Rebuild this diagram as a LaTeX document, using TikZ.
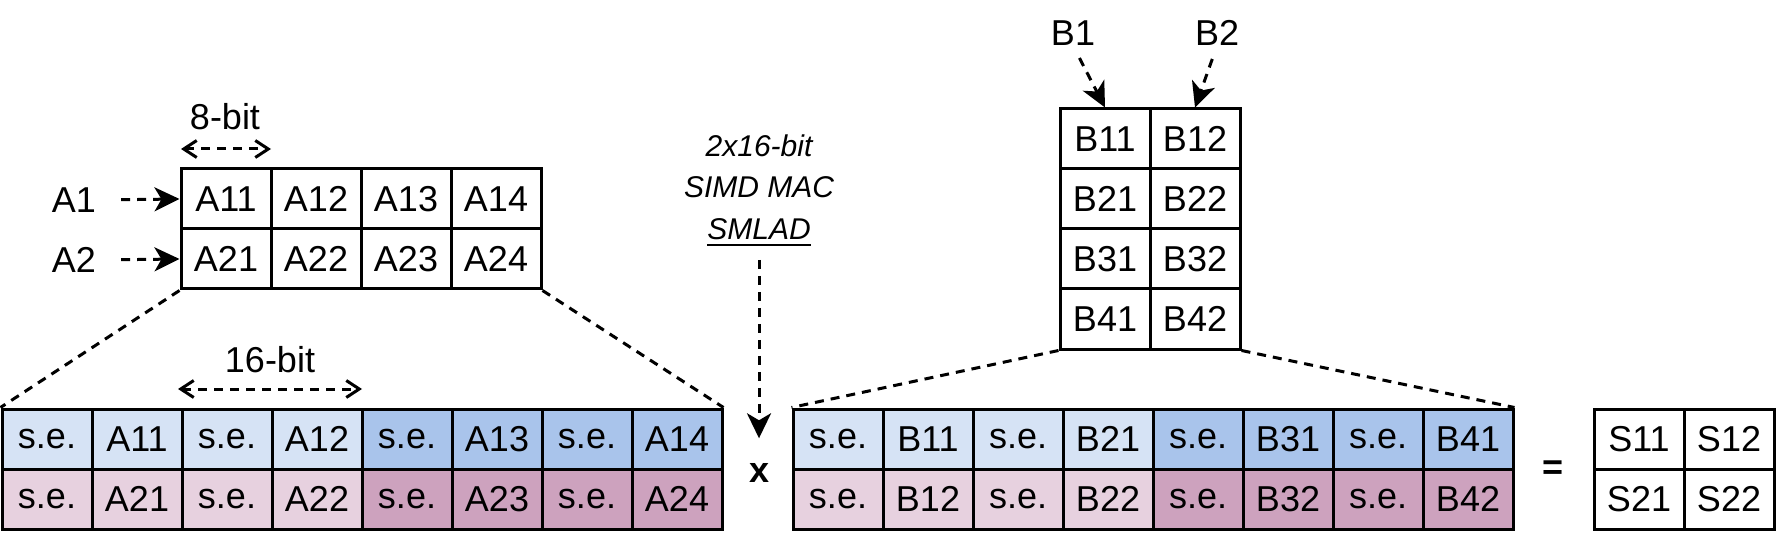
\documentclass[tikz,border=0pt]{standalone}
\usepackage{fontspec}
\setmainfont{Liberation Sans}
\usetikzlibrary{arrows.meta,calc}
\definecolor{lblue}{RGB}{214,227,245}
\definecolor{dblue}{RGB}{169,196,235}
\definecolor{lpink}{RGB}{231,209,223}
\definecolor{dpink}{RGB}{205,162,190}
\begin{document}
\begin{tikzpicture}[x=1pt,y=-1pt,
  cell/.style={draw=black, line width=3pt, minimum width=90pt, minimum height=60pt, inner sep=0pt, font=\fontsize{36}{43}\selectfont},
  lbl/.style={inner sep=0pt, font=\fontsize{36}{43}\selectfont},
  itl/.style={inner sep=0pt, font=\fontsize{30}{36}\selectfont\itshape},
  dline/.style={line width=3pt, dash pattern=on 9pt off 7pt},
  farrow/.style={dline, -{Stealth[length=25pt,width=24pt,inset=7pt]}},
  oarrow/.style={dline, {Straight Barb[length=13pt,width=17pt]}-{Straight Barb[length=13pt,width=17pt]}},
]
\useasboundingbox (0,0) rectangle (1776,534);

% top A matrix
\foreach \r in {1,2}
  \foreach \c in {1,...,4}
    \node[cell] (ta\r\c) at ({181+90*(\c-0.5)},{169+60*(\r-0.5)}) {A\r\c};

% B matrix
\foreach \r in {1,...,4}
  \foreach \c in {1,2}
    \node[cell] (tb\r\c) at ({1060+90*(\c-0.5)},{109+60*(\r-0.5)}) {B\r\c};

% S matrix
\foreach \r in {1,2}
  \foreach \c in {1,2}
    \node[cell] (ts\r\c) at ({1594+90*(\c-0.5)},{409+60*(\r-0.5)}) {S\r\c};

% A strip
\foreach \t/\f [count=\c] in {s.e./lblue,A11/lblue,s.e./lblue,A12/lblue,s.e./dblue,A13/dblue,s.e./dblue,A14/dblue}
  \node[cell, fill=\f] (sa1\c) at ({2+90*(\c-0.5)},439) {\t};
\foreach \t/\f [count=\c] in {s.e./lpink,A21/lpink,s.e./lpink,A22/lpink,s.e./dpink,A23/dpink,s.e./dpink,A24/dpink}
  \node[cell, fill=\f] (sa2\c) at ({2+90*(\c-0.5)},499) {\t};

% B strip
\foreach \t/\f [count=\c] in {s.e./lblue,B11/lblue,s.e./lblue,B21/lblue,s.e./dblue,B31/dblue,s.e./dblue,B41/dblue}
  \node[cell, fill=\f] (sb1\c) at ({793+90*(\c-0.5)},439) {\t};
\foreach \t/\f [count=\c] in {s.e./lpink,B12/lpink,s.e./lpink,B22/lpink,s.e./dpink,B32/dpink,s.e./dpink,B42/dpink}
  \node[cell, fill=\f] (sb2\c) at ({793+90*(\c-0.5)},499) {\t};

% zoom lines
\draw[dline] (ta21.south west) -- (sa11.north west);
\draw[dline] (ta24.south east) -- (sa18.north east);
\draw[dline] (tb41.south west) -- (sb11.north west);
\draw[dline] (tb42.south east) -- (sb18.north east);

% labels A1 A2
\node[lbl] (labA1) at (74,200) {A1};
\node[lbl] (labA2) at (74,260) {A2};
\draw[farrow, shorten <=25pt] (labA1.east) -- (ta11.west);
\draw[farrow, shorten <=25pt] (labA2.east) -- (ta21.west);

% labels B1 B2
\node[lbl] (labB1) at (1073,33) {B1};
\node[lbl] (labB2) at (1217,33) {B2};
\draw[farrow, shorten <=14pt] (labB1.south) -- (tb11.north);
\draw[farrow, shorten <=14pt] (labB2.south) -- (tb12.north);

% bit widths
\node[lbl] (lab8) at (225,117) {8-bit};
\coordinate (e8a) at (181,149);
\coordinate (e8b) at (271,149);
\draw[oarrow] (e8a) -- (e8b);
\node[lbl] (lab16) at (270,360) {16-bit};
\coordinate (e16a) at (178,389);
\coordinate (e16b) at (362,389);
\draw[oarrow] (e16a) -- (e16b);

% SIMD text
\node[itl] (t1) at (759,146) {2x16-bit};
\node[itl] (t2) at (759,187) {SIMD MAC};
\node[itl] (t3) at (759,229) {SMLAD};
\draw[line width=2.5pt] ($(t3.south west)+(0,5)$) -- ($(t3.south east)+(0,5)$);

% operators
\node[lbl, font=\fontsize{36}{43}\selectfont\bfseries] (xop) at (759,473) {x};
\node[lbl, font=\fontsize{36}{43}\selectfont\bfseries] (eq) at (1553,470) {=};
\draw[farrow, shorten <=20pt, shorten >=25pt] (t3.south) -- (xop.north);
\end{tikzpicture}
\end{document}
